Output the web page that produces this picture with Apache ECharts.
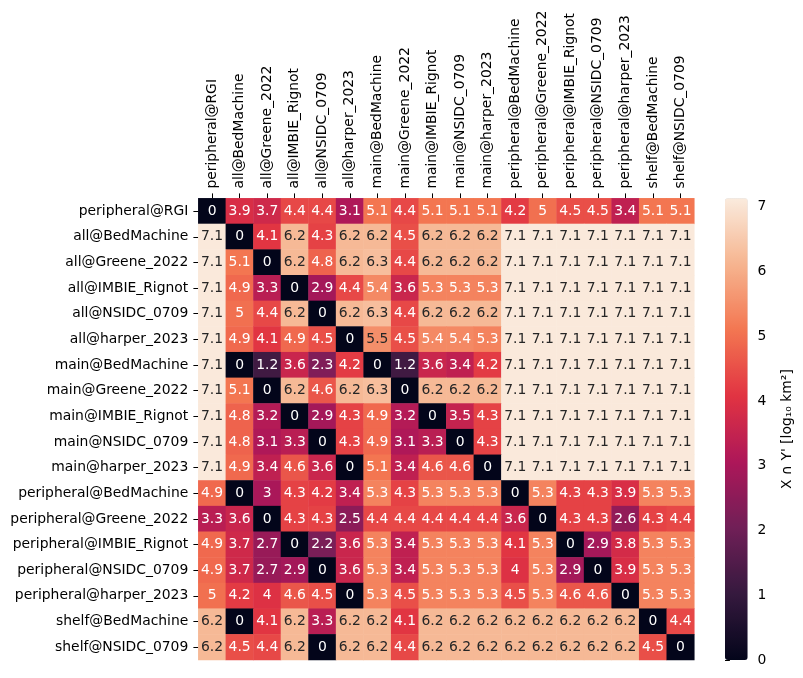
<!DOCTYPE html>
<html>
<head>
<meta charset="utf-8">
<script src="https://cdn.jsdelivr.net/npm/echarts@6/dist/echarts.min.js"></script>
<style>html,body{margin:0;padding:0;background:#fff;}#c{width:803px;height:678px;}</style>
</head>
<body>
<div id="c"></div>
<script>
const categories = [
  'peripheral@RGI','all@BedMachine','all@Greene_2022','all@IMBIE_Rignot','all@NSIDC_0709','all@harper_2023',
  'main@BedMachine','main@Greene_2022','main@IMBIE_Rignot','main@NSIDC_0709','main@harper_2023',
  'peripheral@BedMachine','peripheral@Greene_2022','peripheral@IMBIE_Rignot','peripheral@NSIDC_0709',
  'peripheral@harper_2023','shelf@BedMachine','shelf@NSIDC_0709'
];
const row_peripheral_RGI   = [0,3.9,3.7,4.4,4.4,3.1,5.1,4.4,5.1,5.1,5.1,4.2,5,4.5,4.5,3.4,5.1,5.1];
const row_all_BedMachine   = [7.1,0,4.1,6.2,4.3,6.2,6.2,4.5,6.2,6.2,6.2,7.1,7.1,7.1,7.1,7.1,7.1,7.1];
const row_all_Greene       = [7.1,5.1,0,6.2,4.8,6.2,6.3,4.4,6.2,6.2,6.2,7.1,7.1,7.1,7.1,7.1,7.1,7.1];
const row_all_IMBIE        = [7.1,4.9,3.3,0,2.9,4.4,5.4,3.6,5.3,5.3,5.3,7.1,7.1,7.1,7.1,7.1,7.1,7.1];
const row_all_NSIDC        = [7.1,5,4.4,6.2,0,6.2,6.3,4.4,6.2,6.2,6.2,7.1,7.1,7.1,7.1,7.1,7.1,7.1];
const row_all_harper       = [7.1,4.9,4.1,4.9,4.5,0,5.5,4.5,5.4,5.4,5.3,7.1,7.1,7.1,7.1,7.1,7.1,7.1];
const row_main_BedMachine  = [7.1,0,1.2,3.6,2.3,4.2,0,1.2,3.6,3.4,4.2,7.1,7.1,7.1,7.1,7.1,7.1,7.1];
const row_main_Greene      = [7.1,5.1,0,6.2,4.6,6.2,6.3,0,6.2,6.2,6.2,7.1,7.1,7.1,7.1,7.1,7.1,7.1];
const row_main_IMBIE       = [7.1,4.8,3.2,0,2.9,4.3,4.9,3.2,0,3.5,4.3,7.1,7.1,7.1,7.1,7.1,7.1,7.1];
const row_main_NSIDC       = [7.1,4.8,3.1,3.3,0,4.3,4.9,3.1,3.3,0,4.3,7.1,7.1,7.1,7.1,7.1,7.1,7.1];
const row_main_harper      = [7.1,4.9,3.4,4.6,3.6,0,5.1,3.4,4.6,4.6,0,7.1,7.1,7.1,7.1,7.1,7.1,7.1];
const row_per_BedMachine   = [4.9,0,3,4.3,4.2,3.4,5.3,4.3,5.3,5.3,5.3,0,5.3,4.3,4.3,3.9,5.3,5.3];
const row_per_Greene       = [3.3,3.6,0,4.3,4.3,2.5,4.4,4.4,4.4,4.4,4.4,3.6,0,4.3,4.3,2.6,4.3,4.4];
const row_per_IMBIE        = [4.9,3.7,2.7,0,2.2,3.6,5.3,3.4,5.3,5.3,5.3,4.1,5.3,0,2.9,3.8,5.3,5.3];
const row_per_NSIDC        = [4.9,3.7,2.7,2.9,0,3.6,5.3,3.4,5.3,5.3,5.3,4,5.3,2.9,0,3.9,5.3,5.3];
const row_per_harper       = [5,4.2,4,4.6,4.5,0,5.3,4.5,5.3,5.3,5.3,4.5,5.3,4.6,4.6,0,5.3,5.3];
const row_shelf_BedMachine = [6.2,0,4.1,6.2,3.3,6.2,6.2,4.1,6.2,6.2,6.2,6.2,6.2,6.2,6.2,6.2,0,4.4];
const row_shelf_NSIDC      = [6.2,4.5,4.4,6.2,0,6.2,6.2,4.4,6.2,6.2,6.2,6.2,6.2,6.2,6.2,6.2,4.5,0];
const rows = [row_peripheral_RGI,row_all_BedMachine,row_all_Greene,row_all_IMBIE,row_all_NSIDC,row_all_harper,
  row_main_BedMachine,row_main_Greene,row_main_IMBIE,row_main_NSIDC,row_main_harper,
  row_per_BedMachine,row_per_Greene,row_per_IMBIE,row_per_NSIDC,row_per_harper,row_shelf_BedMachine,row_shelf_NSIDC];
const colorbarTicks = [0,1,2,3,4,5,6,7];
const colorMax = 7.13;
const rocket = ['#03051a','#35193e','#701f57','#ad1759','#e13342','#f37651','#f6b48f','#faebdd'];

const FONT = 'DejaVu Sans';
const FS = 13.9;
const data = [];
rows.forEach((r, yi) => r.forEach((v, xi) => {
  data.push({ value: [xi, yi, v], label: { color: v > 5.45 ? '#262626' : '#ffffff' } });
}));

const chart = echarts.init(document.getElementById('c'), null, { renderer: 'canvas' });
chart.setOption({
  animation: false,
  backgroundColor: '#ffffff',
  grid: [
    { left: 198.3, top: 198.3, width: 496, height: 461.7, containLabel: false },
    { left: 725, top: 198.3, width: 22.7, height: 461.7, containLabel: false }
  ],
  xAxis: [
    {
      type: 'category', data: categories, position: 'top', gridIndex: 0,
      axisLine: { show: false },
      axisTick: { show: true, alignWithLabel: true, length: 4.9, lineStyle: { color: '#000', width: 1 } },
      axisLabel: { rotate: -90, margin: 9.7, color: '#000', fontFamily: FONT, fontSize: FS, interval: 0 },
      splitLine: { show: false }
    },
    { type: 'value', gridIndex: 1, show: false, min: 0, max: 1 }
  ],
  yAxis: [
    {
      type: 'category', data: categories, inverse: true, gridIndex: 0,
      axisLine: { show: false },
      axisTick: { show: true, alignWithLabel: true, length: 4.9, lineStyle: { color: '#000', width: 1 } },
      axisLabel: { margin: 10, color: '#000', fontFamily: FONT, fontSize: FS, interval: 0 },
      splitLine: { show: false }
    },
    {
      type: 'value', gridIndex: 1, position: 'right', min: 0, max: colorMax,
      axisLine: { show: false },
      axisTick: { show: true, length: 4.9, lineStyle: { color: '#000', width: 1 }, customValues: colorbarTicks },
      axisLabel: { margin: 9.7, color: '#000', fontFamily: FONT, fontSize: FS, customValues: colorbarTicks },
      splitLine: { show: false },
      name: "X \u2229 Y' [log\u2081\u2080 km\u00b2]",
      nameLocation: 'middle', nameRotate: 90, nameGap: 33,
      nameTextStyle: { color: '#000', fontFamily: FONT, fontSize: FS }
    }
  ],
  visualMap: {
    type: 'continuous', min: 0, max: colorMax, dimension: 2, seriesIndex: 0,
    calculable: false, hoverLink: false, realtime: false,
    orient: 'vertical', left: 725, top: 198.3, padding: 0,
    itemWidth: 22.7, itemHeight: 461.7, text: ['', ''], textGap: 0,
    showLabel: false,
    inRange: { color: rocket }
  },
  series: [{
    type: 'heatmap', xAxisIndex: 0, yAxisIndex: 0, data: data,
    label: { show: true, fontFamily: FONT, fontSize: FS, formatter: p => String(p.value[2]) },
    itemStyle: { borderWidth: 0 },
    emphasis: { disabled: true }
  }]
});
</script>
</body>
</html>
